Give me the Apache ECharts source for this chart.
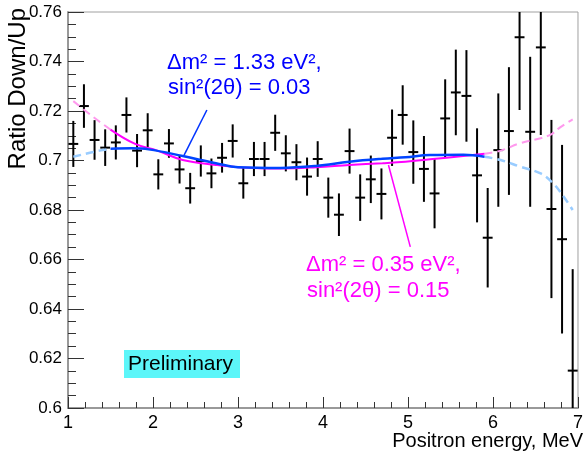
<!DOCTYPE html>
<html>
<head>
<meta charset="utf-8">
<script src="https://cdn.jsdelivr.net/npm/echarts@6/dist/echarts.min.js"></script>
<style>
html, body { margin: 0; padding: 0; background: #fff; }
#chart { width: 586px; height: 455px; }
</style>
</head>
<body>
<div id="chart"></div>
<script>
// bin centres, MeV (0.125 MeV bins)
var energy = [1.0625, 1.1875, 1.3125, 1.4375, 1.5625, 1.6875, 1.8125, 1.9375,
  2.0625, 2.1875, 2.3125, 2.4375, 2.5625, 2.6875, 2.8125, 2.9375,
  3.0625, 3.1875, 3.3125, 3.4375, 3.5625, 3.6875, 3.8125, 3.9375,
  4.0625, 4.1875, 4.3125, 4.4375, 4.5625, 4.6875, 4.8125, 4.9375,
  5.0625, 5.1875, 5.3125, 5.4375, 5.5625, 5.6875, 5.8125, 5.9375,
  6.0625, 6.1875, 6.3125, 6.4375, 6.5625, 6.6875, 6.8125, 6.9375]
var ratio = [0.7067, 0.7220, 0.7083, 0.7052, 0.7073, 0.7184, 0.7040, 0.7122,
  0.6944, 0.7069, 0.6964, 0.6888, 0.6998, 0.6948, 0.7011, 0.7079,
  0.6908, 0.7006, 0.7006, 0.7112, 0.7029, 0.6993, 0.6935, 0.7006,
  0.6850, 0.6781, 0.7038, 0.6850, 0.6924, 0.6865, 0.7092, 0.7184,
  0.7034, 0.6966, 0.6867, 0.7170, 0.7275, 0.7261, 0.6940, 0.6688,
  0.7042, 0.7119, 0.7498, 0.7116, 0.7457, 0.6804, 0.6682, 0.6151]
var ratioErr = [0.0093, 0.0088, 0.0080, 0.0074, 0.0069, 0.0071, 0.0067, 0.0069,
  0.0061, 0.0058, 0.0057, 0.0062, 0.0063, 0.0060, 0.0060, 0.0067,
  0.0062, 0.0069, 0.0069, 0.0073, 0.0073, 0.0073, 0.0077, 0.0072,
  0.0081, 0.0086, 0.0091, 0.0094, 0.0096, 0.0103, 0.0114, 0.0120,
  0.0128, 0.0133, 0.0141, 0.0158, 0.0173, 0.0185, 0.0190, 0.0201,
  0.0229, 0.0258, 0.0294, 0.0303, 0.0354, 0.0360, 0.0381, 0.0410]

// fit curves: dashed outside the fit range, solid inside
var magentaLeft = [[1.0625, 0.7240], [1.3, 0.7175], [1.5, 0.7125]]
var magentaMid = [[1.5, 0.7125], [1.79, 0.7067], [2.05, 0.7040], [2.35, 0.7002], [2.74, 0.6982],
  [3.0, 0.6973], [3.5, 0.6968], [3.92, 0.6973], [4.31, 0.6982], [4.7, 0.6989], [4.97, 0.6995],
  [5.26, 0.7005], [5.65, 0.7018], [5.9, 0.7027]]
var magentaRight = [[5.9, 0.7027], [6.09, 0.7040], [6.32, 0.7070], [6.56, 0.7090],
  [6.69, 0.7107], [6.79, 0.7134], [6.9375, 0.7166]]
var blueLeft = [[1.0625, 0.7015], [1.37, 0.7040], [1.5, 0.7047]]
var blueMid = [[1.5, 0.7047], [1.755, 0.7049], [1.95, 0.7045], [2.35, 0.7018], [2.74, 0.6989],
  [3.0, 0.6973], [3.5, 0.6970], [3.92, 0.6978], [4.31, 0.6995], [4.7, 0.7007], [4.97, 0.7013],
  [5.26, 0.7022], [5.65, 0.7023], [5.9, 0.7015]]
var blueRight = [[5.9, 0.7015], [6.09, 0.7002], [6.32, 0.6975], [6.56, 0.6948],
  [6.69, 0.6914], [6.79, 0.6874], [6.9375, 0.6800]]

var binHalf = 0.058
var yMin = 0.6, yMax = 0.76

var points = energy.map(function (e, i) { return [e, ratio[i], ratioErr[i]] })

var font = '"Liberation Sans", Arial, sans-serif'

function renderErr(params, api) {
  var x = api.value(0), y = api.value(1), e = api.value(2)
  var top = api.coord([x, Math.min(y + e, yMax)])
  var bot = api.coord([x, Math.max(y - e, yMin)])
  var l = api.coord([x - binHalf, y])
  var r = api.coord([x + binHalf, y])
  var st = { stroke: '#000', lineWidth: 2 }
  var kids = [{ type: 'line', shape: { x1: top[0], y1: top[1], x2: bot[0], y2: bot[1] }, style: st }]
  if (y >= yMin && y <= yMax) {
    kids.push({ type: 'line', shape: { x1: l[0], y1: l[1], x2: r[0], y2: r[1] }, style: st })
  }
  return { type: 'group', children: kids }
}

function curve(data, color, dashed, width) {
  return {
    type: 'line',
    data: data,
    smooth: 0.4,
    showSymbol: false,
    silent: true,
    z: 3,
    lineStyle: { color: color, width: width, type: dashed ? [8, 5] : 'solid' }
  }
}

var chart = echarts.init(document.getElementById('chart'))
chart.setOption({
  animation: false,
  grid: { left: 68, right: 4, top: 12, bottom: 47, show: true, borderColor: '#a0a0a0', borderWidth: 1 },
  xAxis: {
    type: 'value', min: 1, max: 7, interval: 1,
    axisLine: { lineStyle: { color: '#999', width: 2 } },
    axisTick: { inside: true, length: 11, lineStyle: { color: '#333' } },
    minorTick: { show: true, splitNumber: 5, length: 6, lineStyle: { color: '#333' } },
    splitLine: { show: false },
    axisLabel: { fontSize: 18, color: '#000', fontFamily: font, margin: 6 }
  },
  yAxis: {
    type: 'value', min: yMin, max: yMax, interval: 0.02,
    axisLine: { show: true, lineStyle: { color: '#999', width: 2 } },
    axisTick: { show: true, inside: true, length: 16, lineStyle: { color: '#333' } },
    minorTick: { show: true, splitNumber: 4, length: 8, lineStyle: { color: '#333' } },
    splitLine: { show: false },
    axisLabel: {
      fontSize: 17, color: '#000', fontFamily: font, margin: 6,
      formatter: function (v) { return String(parseFloat(v.toFixed(2))) }
    }
  },
  series: [
    { type: 'custom', data: points, renderItem: renderErr, clip: true, z: 2, silent: true },
    curve(magentaLeft, '#ff99ee', true, 2),
    curve(magentaRight, '#ff99ee', true, 2),
    curve(blueLeft, '#99ccff', true, 2.5),
    curve(blueRight, '#99ccff', true, 2.5),
    curve(magentaMid, '#ff00ff', false, 2),
    curve(blueMid, '#0044ff', false, 2.5)
  ]
})

// annotations
function px(p) { return chart.convertToPixel({ gridIndex: 0 }, p) }
var bp1 = px([2.634, 0.7204]), bp2 = px([2.366, 0.7022])
var mp1 = px([4.770, 0.6982]), mp2 = px([5.027, 0.6651])

chart.setOption({
  graphic: [
    { type: 'line', shape: { x1: bp1[0], y1: bp1[1], x2: bp2[0], y2: bp2[1] }, style: { stroke: '#0033ff', lineWidth: 1.5 }, z: 10 },
    { type: 'line', shape: { x1: mp1[0], y1: mp1[1], x2: mp2[0], y2: mp2[1] }, style: { stroke: '#ff00ff', lineWidth: 1.5 }, z: 10 },
    { type: 'text', x: 167, y: 63, z: 10, style: { text: 'Δm² = 1.33 eV²,', fill: '#0000ff', font: '22px ' + font, textVerticalAlign: 'middle' } },
    { type: 'text', x: 168, y: 88, z: 10, style: { text: 'sin²(2θ) = 0.03', fill: '#0000ff', font: '22px ' + font, textVerticalAlign: 'middle' } },
    { type: 'text', x: 306, y: 265, z: 10, style: { text: 'Δm² = 0.35 eV²,', fill: '#ff00ff', font: '22px ' + font, textVerticalAlign: 'middle' } },
    { type: 'text', x: 307, y: 291, z: 10, style: { text: 'sin²(2θ) = 0.15', fill: '#ff00ff', font: '22px ' + font, textVerticalAlign: 'middle' } },
    { type: 'rect', shape: { x: 124, y: 350, width: 116, height: 28 }, style: { fill: '#5cf6f9' }, z: 10 },
    { type: 'text', x: 128, y: 364, z: 11, style: { text: 'Preliminary', fill: '#000', font: '21px ' + font, textVerticalAlign: 'middle' } },
    { type: 'text', x: 18, y: 8, rotation: Math.PI / 2, z: 10, style: { text: 'Ratio Down/Up', fill: '#000', font: '24px ' + font, textAlign: 'right', textVerticalAlign: 'middle' } },
    { type: 'text', x: 583, y: 441, z: 10, style: { text: 'Positron energy, MeV', fill: '#000', font: '20px ' + font, textAlign: 'right', textVerticalAlign: 'middle' } }
  ]
})
</script>
</body>
</html>
